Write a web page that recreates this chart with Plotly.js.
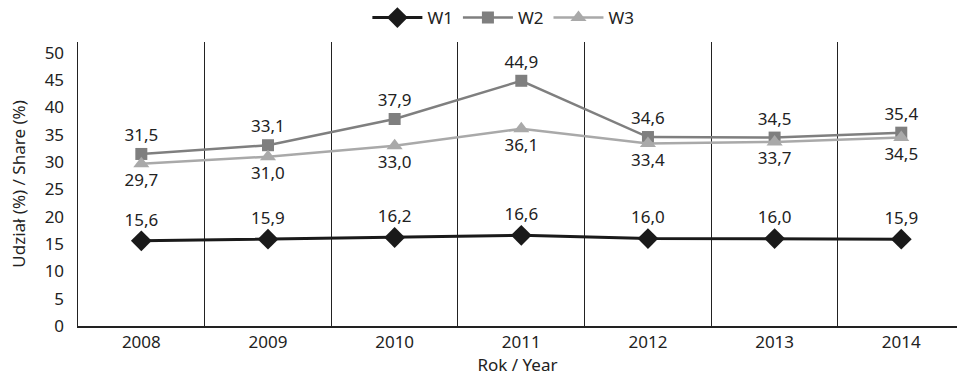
<!DOCTYPE html>
<html><head><meta charset="utf-8">
<script src="https://cdn.plot.ly/plotly-3.0.1.min.js"></script>
<style>html,body{margin:0;padding:0;background:#fff}#c{width:957px;height:384px}</style>
</head><body><div id="c"></div>
<script>
const years = ['2008','2009','2010','2011','2012','2013','2014'];
const w1 = [15.6,15.9,16.2,16.6,16.0,16.0,15.9];
const w2 = [31.5,33.1,37.9,44.9,34.6,34.5,35.4];
const w3 = [29.7,31.0,33.0,36.1,33.4,33.7,34.5];
const fmt = v => v.toFixed(1).replace('.', ',');
const F = 'Noto Sans, DejaVu Sans, sans-serif';
function tr(name, y, color, sym, size, pos, lw){
  return {x: years, y: y, name: name, type:'scatter', mode:'lines+markers+text',
    line:{color:color, width:lw}, marker:{symbol:sym, size:size, color:color},
    text: y.map(fmt), textposition: pos, textfont:{family:F, size:17, color:'#222'},
    cliponaxis:false};
}
const data = [
  tr('W1', w1, '#1a1a1a', 'diamond', 16, 'top center', 3),
  tr('W2', w2, '#7f7f7f', 'square', 12, 'top center', 2.5),
  tr('W3', w3, '#a9a9a9', 'triangle-up', 14, 'bottom center', 2.5)
];
const layout = {
  width:957, height:384, margin:{l:78, r:0, t:42, b:58},
  paper_bgcolor:'#fff', plot_bgcolor:'#fff',
  font:{family:F, size:17, color:'#222'},
  showlegend:true,
  legend:{orientation:'h', x:0.526, xanchor:'center', xref:'container', y:1.0, yanchor:'top', yref:'container',
    font:{family:F, size:17, color:'#222'}, traceorder:'normal', itemwidth:50},
  xaxis:{type:'category', range:[-0.5, 6.44], tickson:'boundaries', showgrid:true,
    gridcolor:'#222', gridwidth:1, ticks:'', showline:true, linecolor:'#222', linewidth:1.5,
    tickfont:{family:F, size:17, color:'#222'},
    title:{text:'Rok / Year', font:{family:F, size:17, color:'#222'}, standoff:4}},
  yaxis:{range:[0,52], tickvals:[0,5,10,15,20,25,30,35,40,45,50], showgrid:false,
    zeroline:false, showline:true, linecolor:'#222', linewidth:1.5, ticks:'',
    tickfont:{family:F, size:17, color:'#222'}, ticklabelstandoff:9,
    title:{text:'Udział (%) / Share (%)', font:{family:F, size:17, color:'#222'}, standoff:14}}
};
Plotly.newPlot('c', data, layout, {displayModeBar:false, staticPlot:true});
</script></body></html>
